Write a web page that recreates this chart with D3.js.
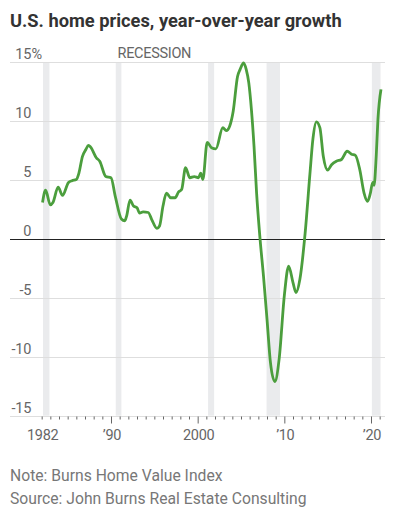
<!DOCTYPE html>
<meta charset="utf-8">
<style>
body { margin: 0; background: #fff; }
svg text { font-family: "Roboto", sans-serif; }
.title { font-weight: 700; font-size: 18.3px; fill: #333; }
.note { font-size: 15.7px; fill: #777; }
.ylab, .xlab, .rec { font-size: 14.5px; fill: #666; letter-spacing: -0.3px; }
</style>
<body>
<script src="https://d3js.org/d3.v7.min.js"></script>
<script>

// decimal year, percent growth
const years = [1982.1, 1982.45, 1983.0, 1983.3, 1983.9, 1984.4, 1985.1, 1985.5, 1986.0, 1986.3,
  1986.7, 1987.1, 1987.4, 1987.65, 1988.3, 1988.7, 1989.4, 1990.0, 1990.5, 1991.2,
  1991.6, 1991.8, 1992.2, 1992.6, 1993.0, 1993.3, 1993.7, 1994.3, 1994.7, 1995.3,
  1995.6, 1996.0, 1996.4, 1996.9, 1997.4, 1997.8, 1998.15, 1998.6, 1999.1, 1999.6,
  2000.1, 2000.35, 2000.6, 2001.1, 2001.6, 2002.1, 2002.9, 2003.3, 2003.7, 2004.1,
  2004.6, 2004.9, 2005.3, 2005.6, 2005.9, 2006.2, 2006.5, 2006.8, 2007.2, 2007.6,
  2008.0, 2008.4, 2008.9, 2009.4, 2010.0, 2010.5, 2011.0, 2011.35, 2011.8, 2012.4,
  2012.95, 2013.3, 2013.7, 2014.1, 2014.5, 2015.0, 2015.45, 2016.0, 2016.6, 2017.25,
  2017.75, 2018.2, 2018.7, 2019.2, 2019.6, 2019.9, 2020.2, 2020.35, 2020.6, 2020.8,
  2021.15];
const growth = [3.1, 4.15, 2.9, 3.1, 4.4, 3.7, 4.8, 4.95, 5.05, 5.6,
  7.0, 7.6, 7.95, 7.8, 6.9, 6.6, 5.3, 5.2, 3.6, 1.7,
  1.55, 1.95, 3.3, 2.8, 2.65, 2.2, 2.3, 2.25, 1.65, 0.9,
  1.1, 2.8, 3.9, 3.5, 3.5, 4.0, 4.2, 6.05, 5.2, 5.3,
  5.2, 5.6, 5.05, 8.2, 7.75, 7.65, 9.45, 9.2, 9.6, 10.85,
  13.8, 14.4, 14.95, 14.4, 13.25, 11.0, 7.9, 3.9, 0, -3.2,
  -6.8, -10.5, -12.1, -10.2, -4.8, -2.3, -3.7, -4.55, -3.4, 0.5,
  5.5, 8.5, 9.95, 9.45, 7.0, 5.85, 6.3, 6.6, 6.75, 7.45,
  7.2, 7.1, 5.9, 3.9, 3.2, 3.8, 4.8, 4.55, 7.0, 10.15,
  12.7];

const recStart = [1982.15, 1990.55, 2001.2, 2007.95, 2020.1];
const recEnd   = [1982.9, 1991.2, 2001.9, 2009.5, 2021.1];

const yTicks = [15, 10, 5, 0, -5, -10, -15];
const majorYears = [1982, 1990, 2000, 2010, 2020];
const majorLabels = ["1982", "\u201990", "2000", "\u201910", "\u201920"];

const W = 395, H = 522;
const x = d3.scaleLinear().domain([1990, 2020]).range([111, 371]);
const y = d3.scaleLinear().domain([-15, 15]).range([415.7, 62.3]);
const left = 10, right = 385;
const crisp = v => Math.round(v) + 0.5;

const svg = d3.select("body").append("svg")
  .attr("width", W).attr("height", H);

svg.append("text").attr("class", "title")
  .attr("x", 10).attr("y", 26.5)
  .text("U.S. home prices, year-over-year growth");

// recession bands
svg.selectAll(".band")
  .data(recStart.map((s, i) => [s, recEnd[i]]))
  .enter().append("rect")
  .attr("class", "band")
  .attr("x", d => x(d[0]))
  .attr("width", d => x(d[1]) - x(d[0]))
  .attr("y", y(15))
  .attr("height", y(-15) - y(15))
  .attr("fill", "#eaebed");

svg.append("text").attr("class", "rec")
  .attr("x", 117.5).attr("y", 57.5)
  .text("RECESSION");

// grid
svg.selectAll(".grid")
  .data(yTicks.filter(d => d !== 0))
  .enter().append("line")
  .attr("x1", left).attr("x2", right)
  .attr("y1", d => crisp(y(d))).attr("y2", d => crisp(y(d)))
  .attr("stroke", "#dedede").attr("stroke-width", 1);

svg.selectAll(".ylab")
  .data(yTicks)
  .enter().append("text")
  .attr("class", "ylab")
  .attr("x", 31).attr("y", d => y(d) - 3)
  .attr("text-anchor", "end")
  .text(d => d);

svg.append("text").attr("class", "ylab")
  .attr("x", 31.5).attr("y", y(15) - 3)
  .text("%");

// x axis ticks
const minor = d3.axisBottom(x)
  .tickValues(d3.range(1982, 2022).filter(d => majorYears.indexOf(d) < 0 || d === 1982))
  .tickSize(3).tickFormat("");
const major = d3.axisBottom(x)
  .tickValues(majorYears.slice(1))
  .tickSize(7).tickFormat("");

svg.append("g").attr("transform", "translate(0," + crisp(y(-15)) + ")").call(minor)
  .call(g => g.select(".domain").remove())
  .selectAll("line").attr("stroke", "#666");
svg.append("g").attr("transform", "translate(0," + crisp(y(-15)) + ")").call(major)
  .call(g => g.select(".domain").remove())
  .selectAll("line").attr("stroke", "#666");

svg.selectAll(".xlab")
  .data(majorYears)
  .enter().append("text")
  .attr("class", "xlab")
  .attr("x", d => x(d) + 1)
  .attr("y", 440)
  .attr("text-anchor", "middle")
  .text((d, i) => majorLabels[i]);

// zero line
svg.append("line")
  .attr("x1", left).attr("x2", right)
  .attr("y1", crisp(y(0))).attr("y2", crisp(y(0)))
  .attr("stroke", "#222").attr("stroke-width", 1);

// series
const line = d3.line()
  .x(d => x(d[0]))
  .y(d => y(d[1]))
  .curve(d3.curveMonotoneX);

svg.append("path")
  .datum(years.map((yr, i) => [yr, growth[i]]))
  .attr("fill", "none")
  .attr("stroke", "#4b9e3d")
  .attr("stroke-width", 2.8)
  .attr("stroke-linejoin", "round")
  .attr("d", line);

svg.append("text").attr("class", "note")
  .attr("x", 10).attr("y", 481)
  .text("Note: Burns Home Value Index");
svg.append("text").attr("class", "note")
  .attr("x", 10).attr("y", 504)
  .text("Source: John Burns Real Estate Consulting");
</script>
